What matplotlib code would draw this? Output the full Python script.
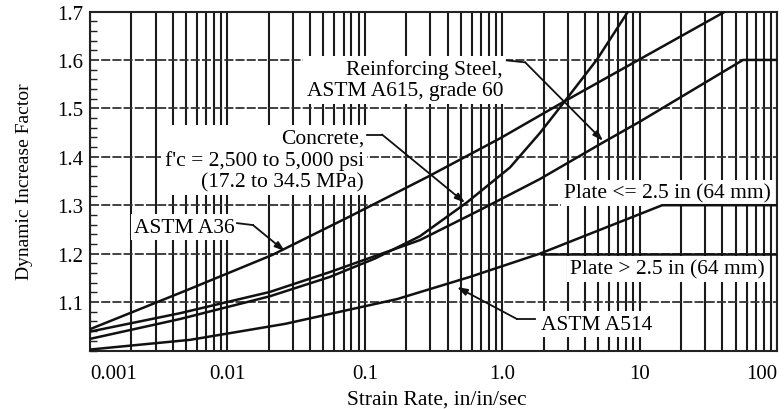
import numpy as np
import matplotlib.pyplot as plt
from matplotlib.ticker import LogLocator, MultipleLocator, NullFormatter, FixedLocator

plt.rcParams['font.family'] = ['Liberation Serif', 'DejaVu Serif']

# strain rate (in/in/sec) and dynamic increase factor
a36_rate = [0.001, 0.00491, 0.0211, 0.078, 0.284, 0.964, 2.86, 42.0]
a36_dif = [1.044, 1.123, 1.197, 1.277, 1.358, 1.438, 1.515, 1.70]

rebar_rate = [0.001, 0.00452, 0.0204, 0.0558, 0.252, 0.688, 1.88, 5.15, 10.1, 56.6, 100]
rebar_dif = [1.039, 1.077, 1.121, 1.162, 1.228, 1.290, 1.354, 1.426, 1.473, 1.60, 1.60]

concrete_rate = [0.001, 0.00452, 0.0204, 0.0558, 0.1187, 0.252, 0.555, 1.14, 1.88,
                 2.86, 4.90, 8.24]
concrete_dif = [1.024, 1.065, 1.112, 1.152, 1.190, 1.236, 1.306, 1.378, 1.449,
                1.515, 1.601, 1.70]

a514_rate = [0.001, 0.00535, 0.0263, 0.171, 0.583, 1.88]
a514_dif = [1.002, 1.022, 1.055, 1.106, 1.152, 1.20]
thick_rate = [1.88, 100]          # plate > 2.5 in
thick_dif = [1.20, 1.20]
thin_rate = [1.88, 14.6, 100]     # plate <= 2.5 in
thin_dif = [1.20, 1.30, 1.30]

xticks = [0.001, 0.01, 0.1, 1.0, 10, 100]
xlabels = ['0.001', '0.01', '0.1', '1.0', '10', '100']
yticks = [1.1, 1.2, 1.3, 1.4, 1.5, 1.6, 1.7]

fig = plt.figure(figsize=(7.84, 4.10), dpi=100)
ax = fig.add_axes([90 / 784, 1 - 351.5 / 410, 687 / 784, 339 / 410])

ax.set_xscale('log')
ax.set_xlim(0.001, 100)
ax.set_ylim(1.0, 1.7)

ax.xaxis.set_major_locator(FixedLocator(xticks))
ax.xaxis.set_minor_locator(LogLocator(base=10, subs=range(2, 10)))
ax.xaxis.set_minor_formatter(NullFormatter())
ax.set_xticklabels(xlabels)
ax.set_yticks(yticks)
ax.set_yticklabels([f'{v:.1f}' for v in yticks])
ax.yaxis.set_minor_locator(MultipleLocator(0.02))

ax.tick_params(axis='x', which='both', length=0, pad=10, labelsize=15)
ax.tick_params(axis='y', which='major', length=0, pad=5, labelsize=15)
ax.tick_params(axis='y', which='minor', direction='in', length=5, width=1, color='#222')
tl = ax.get_xticklabels()
tl[0].set_ha('left')
tl[-1].set_ha('right')

ax.set_axisbelow(True)
ax.grid(axis='x', which='both', color='#1a1a1a', lw=1.5)
ax.grid(axis='y', which='major', color='#333333', lw=1.3, ls=(0, (5, 1.2)))
for s in ax.spines.values():
    s.set_linewidth(1.5)
    s.set_color('#222222')

kw = dict(color='#111111', lw=1.8, zorder=4, solid_capstyle='butt')
ax.plot(a36_rate, a36_dif, **kw)
ax.plot(rebar_rate, rebar_dif, **kw)
ax.plot(concrete_rate, concrete_dif, **kw)
ax.plot(a514_rate, a514_dif, **kw)
ax.plot(thick_rate, thick_dif, **kw)
ax.plot(thin_rate, thin_dif, **kw)

box = dict(fc='white', ec='none', pad=2.5)
tkw = dict(fontsize=15.5, zorder=3, bbox=box, linespacing=1.15)
ax.text(1.014, 1.559, 'Reinforcing Steel,\nASTM A615, grade 60', ha='right', va='center',
        multialignment='right', **tkw)
ax.text(0.0986, 1.393, "Concrete,\nf'c = 2,500 to 5,000 psi\n(17.2 to 34.5 MPa)", ha='right',
        va='center', multialignment='right', **tkw)
ax.text(0.01135, 1.2546, 'ASTM A36', ha='right', va='center', **tkw)
ax.text(90.4, 1.326, 'Plate <= 2.5 in (64 mm)', ha='right', va='center', **tkw)
ax.text(81.8, 1.168, 'Plate > 2.5 in (64 mm)', ha='right', va='center', **tkw)
ax.text(1.91, 1.0546, 'ASTM A514', ha='left', va='center', **tkw)

# leader lines: short level stroke, then an arrow to the curve
leaders = [
    ((1.08, 1.599), (1.47, 1.595), (5.42, 1.433)),
    ((0.1037, 1.446), (0.1334, 1.446), (0.536, 1.305)),
    ((0.01175, 1.263), (0.01535, 1.259), (0.0262, 1.205)),
    ((1.73, 1.065), (1.28, 1.065), (0.469, 1.131)),
]
for p0, p1, tip in leaders:
    ax.plot([p0[0], p1[0]], [p0[1], p1[1]], color='#111111', lw=1.3, zorder=5)
    ax.annotate('', xy=tip, xytext=p1, zorder=5,
                arrowprops=dict(arrowstyle='-|>,head_length=0.6,head_width=0.2',
                                color='#111111', lw=1.3, shrinkA=0, shrinkB=0))

ax.set_xlabel('Strain Rate, in/in/sec', fontsize=15.5)
ax.set_ylabel('Dynamic Increase Factor', fontsize=14)
ax.xaxis.set_label_coords(0.505, -0.115)
ax.yaxis.set_label_coords(-0.083, 0.5)

fig.savefig('out.png', dpi=100)
